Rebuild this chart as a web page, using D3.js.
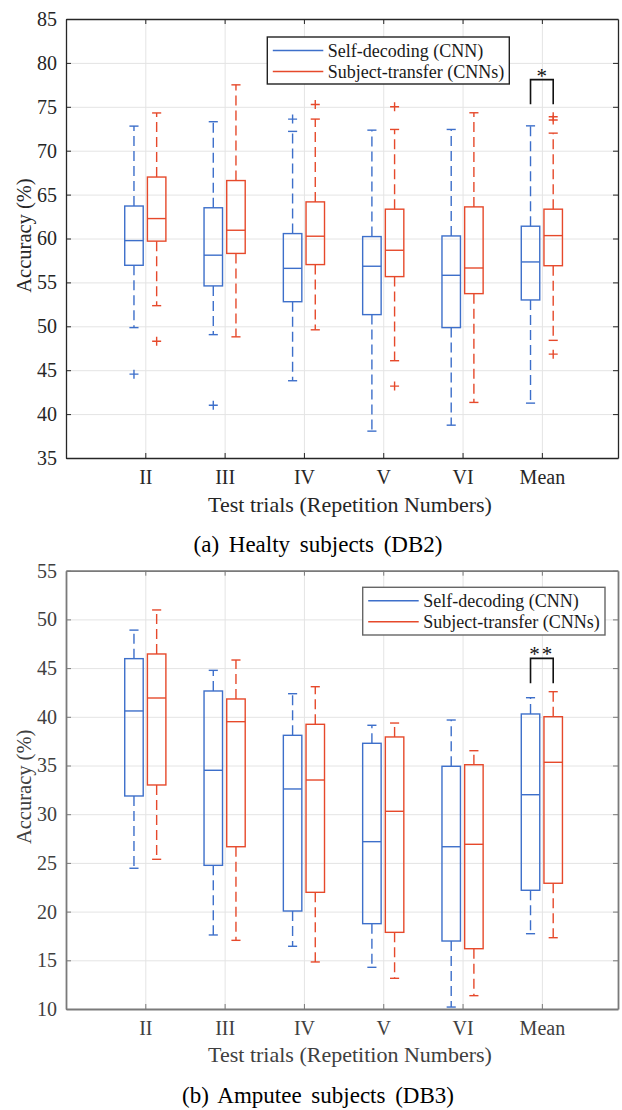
<!DOCTYPE html>
<html>
<head>
<meta charset="utf-8">
<script src="https://cdn.jsdelivr.net/npm/d3@7"></script>
<style>
    body { margin: 0; background: #fff; }
    svg { display: block; font-family: "Liberation Serif", "Times New Roman", serif; }
</style>
</head>
<body>
<svg id="chart" width="622" height="1110"></svg>
<script>
// categories and legend names
const categories = ["II", "III", "IV", "V", "VI", "Mean"];
const seriesNames = ["Self-decoding (CNN)", "Subject-transfer (CNNs)"];

// rows: [lower whisker, Q1, median, Q3, upper whisker]
const db2Self = [
    [49.85, 56.95, 59.76, 63.7, 72.8],
    [49.05, 54.6, 58.1, 63.5, 73.3],
    [43.8, 52.8, 56.6, 60.56, 72.2],
    [38.06, 51.33, 56.84, 60.22, 72.34],
    [38.74, 49.85, 55.81, 60.29, 72.42],
    [41.25, 53.0, 57.33, 61.4, 72.83]
];
const db2Transfer = [
    [52.35, 59.7, 62.27, 67.0, 74.3],
    [48.8, 58.3, 60.94, 66.6, 77.5],
    [49.6, 57.03, 60.26, 64.17, 73.6],
    [46.08, 55.66, 58.66, 63.34, 72.42],
    [41.33, 53.72, 56.64, 63.6, 74.32],
    [48.4, 56.9, 60.33, 63.34, 72.0]
];
const db2SelfOut = [[44.55], [41.0], [73.6], [], [], []];
const db2TransferOut = [[48.3], [], [75.27], [75.0, 43.19], [], [73.86, 73.5, 46.83]];

const db3Self = [
    [24.45, 31.87, 40.6, 45.97, 48.9],
    [17.6, 24.75, 34.51, 42.65, 44.77],
    [16.44, 20.06, 32.59, 38.1, 42.37],
    [14.28, 18.76, 27.18, 37.28, 39.13],
    [10.2, 16.98, 26.66, 34.92, 39.67],
    [17.73, 22.19, 32.0, 40.29, 41.96]
];
const db3Transfer = [
    [25.37, 33.0, 41.93, 46.45, 50.97],
    [17.05, 26.66, 39.5, 41.83, 45.83],
    [14.83, 21.98, 33.51, 39.23, 43.09],
    [13.15, 17.87, 30.3, 37.93, 39.36],
    [11.37, 16.19, 26.91, 35.08, 36.52],
    [17.32, 22.91, 35.33, 40.01, 42.58]
];
const db3SelfOut = [[], [], [], [], [], []];
const db3TransferOut = [[], [], [], [], [], []];

// significance: [category, label, bracket top, leg bottom]
const db2Sig = ["Mean", "*", 78.1, 75.3];
const db3Sig = ["Mean", "**", 46.0, 43.44];

const colors = ["#3d6fca", "#e6492b"];
const svg = d3.select("#chart");
const margin = { left: 66, right: 618 };

function drawPanel(p) {
    let g = svg.append("g");
    let x = d3.scaleLinear().domain([0, 6.96]).range([margin.left, margin.right]);
    let y = d3.scaleLinear().domain(p.yDomain).range([p.bottom, p.top]);
    let catPos = categories.map((c, i) => i + 1);
    let h = p.bottom - p.top;
    let w = margin.right - margin.left;

    // grid
    g.append("g")
        .attr("transform", "translate(0," + p.bottom + ")")
        .call(d3.axisBottom(x).tickValues(catPos).tickSize(-h).tickFormat(""))
        .call(s => s.select(".domain").remove())
        .selectAll("line").attr("stroke", "#e4e4e4");
    g.append("g")
        .attr("transform", "translate(" + margin.left + ",0)")
        .call(d3.axisLeft(y).ticks(10).tickSize(-w).tickFormat(""))
        .call(s => s.select(".domain").remove())
        .selectAll("line").attr("stroke", "#e4e4e4");

    // boxes
    let off = 0.143, bw = 0.233, cw = 0.115;
    [p.self, p.transfer].forEach(function (series, si) {
        let col = colors[si];
        let outs = si == 0 ? p.selfOut : p.transferOut;
        series.forEach(function (d, i) {
            let cx = x(i + 1 + (si == 0 ? -off : off));
            let bx0 = cx - (x(bw) - x(0)) / 2;
            let bx1 = cx + (x(bw) - x(0)) / 2;
            let cap = (x(cw) - x(0)) / 2;
            let bg = g.append("g").attr("stroke", col).attr("stroke-width", 1.4).attr("fill", "none");
            // whiskers
            bg.append("line").attr("x1", cx).attr("x2", cx)
                .attr("y1", y(d[3])).attr("y2", y(d[4])).attr("stroke-dasharray", "10,5");
            bg.append("line").attr("x1", cx).attr("x2", cx)
                .attr("y1", y(d[1])).attr("y2", y(d[0])).attr("stroke-dasharray", "10,5");
            bg.append("line").attr("x1", cx - cap).attr("x2", cx + cap)
                .attr("y1", y(d[4])).attr("y2", y(d[4]));
            bg.append("line").attr("x1", cx - cap).attr("x2", cx + cap)
                .attr("y1", y(d[0])).attr("y2", y(d[0]));
            bg.append("rect").attr("x", bx0).attr("width", bx1 - bx0)
                .attr("y", y(d[3])).attr("height", y(d[1]) - y(d[3]));
            bg.append("line").attr("x1", bx0).attr("x2", bx1)
                .attr("y1", y(d[2])).attr("y2", y(d[2]));
            outs[i].forEach(function (o) {
                bg.append("path")
                    .attr("d", "M" + (cx - 4.5) + "," + y(o) + "H" + (cx + 4.5) +
                        "M" + cx + "," + (y(o) - 4.5) + "V" + (y(o) + 4.5));
            });
        });
    });

    // significance bracket
    let si = categories.indexOf(p.sig[0]) + 1;
    let xa = x(si - off), xb = x(si + off);
    g.append("path")
        .attr("d", "M" + xa + "," + y(p.sig[3]) + "V" + y(p.sig[2]) + "H" + xb + "V" + y(p.sig[3]))
        .attr("fill", "none").attr("stroke", "#111").attr("stroke-width", 1.6);
    g.append("text")
        .attr("x", (xa + xb) / 2).attr("y", y(p.sig[2]) + 3)
        .attr("text-anchor", "middle").attr("font-size", 21).attr("fill", "#111")
        .attr("letter-spacing", p.sig[1].length > 1 ? 2 : 0)
        .text(p.sig[1]);

    // axes (ticks inside, box on)
    let styleAxis = function (s) {
        s.select(".domain").attr("stroke", p.axisColor).attr("stroke-width", p.axisWidth);
        s.selectAll(".tick line").attr("stroke", p.axisColor);
        s.selectAll("text").attr("fill", p.textColor).attr("font-size", 20)
            .attr("font-family", "'Liberation Serif', 'Times New Roman', serif");
    };
    g.append("g").attr("transform", "translate(0," + p.bottom + ")")
        .call(d3.axisBottom(x).tickValues(catPos).tickFormat((d, i) => categories[i])
            .tickSizeInner(-5).tickSizeOuter(0).tickPadding(12))
        .call(styleAxis);
    g.append("g").attr("transform", "translate(0," + p.top + ")")
        .call(d3.axisTop(x).tickValues(catPos).tickFormat("").tickSizeInner(-5).tickSizeOuter(0))
        .call(styleAxis);
    g.append("g").attr("transform", "translate(" + margin.left + ",0)")
        .call(d3.axisLeft(y).ticks(10).tickSizeInner(-5).tickSizeOuter(0).tickPadding(9))
        .call(styleAxis);
    g.append("g").attr("transform", "translate(" + margin.right + ",0)")
        .call(d3.axisRight(y).ticks(10).tickFormat("").tickSizeInner(-5).tickSizeOuter(0))
        .call(styleAxis);

    // axis labels
    g.append("text")
        .attr("x", (margin.left + margin.right) / 2 + 8).attr("y", p.xLabelY)
        .attr("text-anchor", "middle").attr("font-size", 22).attr("fill", p.textColor)
        .text("Test trials (Repetition Numbers)");
    g.append("text")
        .attr("transform", "translate(" + 31 + "," + ((p.top + p.bottom) / 2 - 3) + ") rotate(-90)")
        .attr("text-anchor", "middle").attr("font-size", 20.5).attr("fill", p.textColor)
        .text("Accuracy (%)");
    g.append("text")
        .attr("x", 318).attr("y", p.captionY)
        .attr("text-anchor", "middle").attr("font-size", 23).attr("word-spacing", 4)
        .attr("fill", "#000")
        .text(p.caption);

    // legend
    let L = p.legend;
    g.append("rect").attr("x", L.x0).attr("y", L.y0)
        .attr("width", L.x1 - L.x0).attr("height", L.y1 - L.y0)
        .attr("fill", "#fff").attr("stroke", L.stroke).attr("stroke-width", 1.4);
    seriesNames.forEach(function (name, i) {
        let ly = L.y0 + 13.5 + i * 21;
        g.append("line").attr("x1", L.x0 + 5.5).attr("x2", L.x0 + 56)
            .attr("y1", ly).attr("y2", ly)
            .attr("stroke", colors[i]).attr("stroke-width", 1.4);
        g.append("text").attr("x", L.x0 + 60.5).attr("y", ly + 6)
            .attr("font-size", 18).attr("fill", "#1a1a1a").text(name);
    });
}

drawPanel({
    top: 19, bottom: 458, yDomain: [35, 85],
    self: db2Self, transfer: db2Transfer, selfOut: db2SelfOut, transferOut: db2TransferOut,
    sig: db2Sig, axisColor: "#262626", axisWidth: 1.3, textColor: "#262626",
    xLabelY: 512, captionY: 552, caption: "(a) Healty subjects (DB2)",
    legend: { x0: 267.3, x1: 509.3, y0: 37, y1: 84, stroke: "#222" }
});
drawPanel({
    top: 570.7, bottom: 1009, yDomain: [10, 55],
    self: db3Self, transfer: db3Transfer, selfOut: db3SelfOut, transferOut: db3TransferOut,
    sig: db3Sig, axisColor: "#7a7a7a", axisWidth: 1.8, textColor: "#404040",
    xLabelY: 1062, captionY: 1103, caption: "(b) Amputee subjects (DB3)",
    legend: { x0: 362.7, x1: 605, y0: 587.3, y1: 635, stroke: "#666" }
});
</script>
</body>
</html>
